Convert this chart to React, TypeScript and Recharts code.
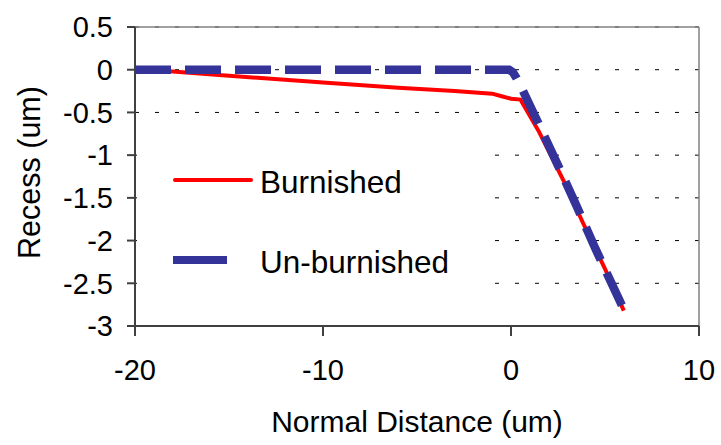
import {
  ComposedChart,
  Line,
  XAxis,
  YAxis,
  CartesianGrid,
  Legend,
  ReferenceLine,
} from 'recharts';

// Values
const burnishedX = [-20, -18, -15, -10, -6, -3, -1, -0.5, 0, 0.5, 1.5, 2.8, 3.8, 5, 6];
const burnishedY = [0, -0.02, -0.07, -0.15, -0.21, -0.25, -0.28, -0.31, -0.34, -0.35, -0.73, -1.3, -1.78, -2.33, -2.82];

const unburnishedX = [-20, -0.1, 0.1, 0.3, 0.6, 1.4, 2.5, 3.5, 4.5, 5.9];
const unburnishedY = [0, 0, -0.03, -0.1, -0.23, -0.6, -1.12, -1.6, -2.1, -2.76];

const xTicks = [-20, -10, 0, 10];
const yTicks = [0.5, 0, -0.5, -1, -1.5, -2, -2.5, -3];

const burnished = burnishedX.map((x, i) => ({ x, y: burnishedY[i] }));
const unburnished = unburnishedX.map((x, i) => ({ x, y: unburnishedY[i] }));

const FONT = '"Liberation Sans", Arial, sans-serif';
const RED = '#ff0000';
const BLUE = '#333399';

// Excel-style legend box sitting over the plot
const LegendBox = () => (
  <svg width={348} height={175} style={{ display: 'block' }}>
    <rect x={0} y={0} width={348} height={175} fill="#fff" />
    <line x1={38} y1={55} x2={114} y2={55} stroke={RED} strokeWidth={4} strokeLinecap="round" />
    <text x={123} y={68} fontSize={31.5} fontFamily={FONT} fill="#000">
      Burnished
    </text>
    <line x1={36} y1={135} x2={90} y2={135} stroke={BLUE} strokeWidth={8} />
    <text x={123} y={148} fontSize={31.5} fontFamily={FONT} fill="#000">
      Un-burnished
    </text>
  </svg>
);

// rotated y axis title, a little above the plot centre like the original
const YTitle = (props: any) => {
  const vb = props.viewBox || { x: 0, y: 27, width: 135, height: 299 };
  const cx = vb.x + 39.5;
  const cy = vb.y + vb.height / 2 - 4;
  return (
    <text
      x={cx}
      y={cy}
      transform={`rotate(-90, ${cx}, ${cy})`}
      textAnchor="middle"
      fontSize={30.5}
      fontFamily={FONT}
      fill="#000"
    >
      Recess (um)
    </text>
  );
};

export default function App() {
  return (
    <div style={{ position: 'absolute', left: 0, top: 0, width: 721, height: 445, background: '#fff' }}>
      <ComposedChart
        width={721}
        height={445}
        margin={{ top: 27, right: 22, left: 0, bottom: 0 }}
      >
        <CartesianGrid
          horizontal
          vertical={false}
          stroke="#000"
          strokeDasharray="4 16"
        />
        <ReferenceLine y={0.5} stroke="#808080" strokeWidth={1.5} />
        <ReferenceLine x={10} stroke="#808080" strokeWidth={1.5} />
        <XAxis
          type="number"
          dataKey="x"
          domain={[-20, 10]}
          ticks={xTicks}
          allowDataOverflow
          height={119}
          tickSize={10}
          tickMargin={23}
          stroke="#404040"
          strokeWidth={2}
          tick={{ fontSize: 29, fontFamily: FONT, fill: '#000' }}
          label={{
            value: 'Normal Distance (um)',
            position: 'insideBottom',
            offset: 13,
            style: { fontSize: 30, fontFamily: FONT, fill: '#000' },
          }}
        />
        <YAxis
          type="number"
          domain={[-3, 0.5]}
          ticks={yTicks}
          allowDataOverflow
          width={135}
          tickSize={8}
          tickMargin={14}
          stroke="#404040"
          strokeWidth={2}
          tick={{ fontSize: 29, fontFamily: FONT, fill: '#000' }}
          label={<YTitle />}
        />
        <Legend
          layout="horizontal"
          verticalAlign="middle"
          align="center"
          content={() => <LegendBox />}
          wrapperStyle={{ left: 137, top: 125, width: 348, height: 175 }}
        />
        <Line
          data={burnished}
          dataKey="y"
          type="linear"
          stroke={RED}
          strokeWidth={4}
          dot={false}
          activeDot={false}
          isAnimationActive={false}
          name="Burnished"
        />
        <Line
          data={unburnished}
          dataKey="y"
          type="linear"
          stroke={BLUE}
          strokeWidth={8.5}
          strokeDasharray="36 14"
          dot={false}
          activeDot={false}
          isAnimationActive={false}
          name="Un-burnished"
        />
      </ComposedChart>
    </div>
  );
}
